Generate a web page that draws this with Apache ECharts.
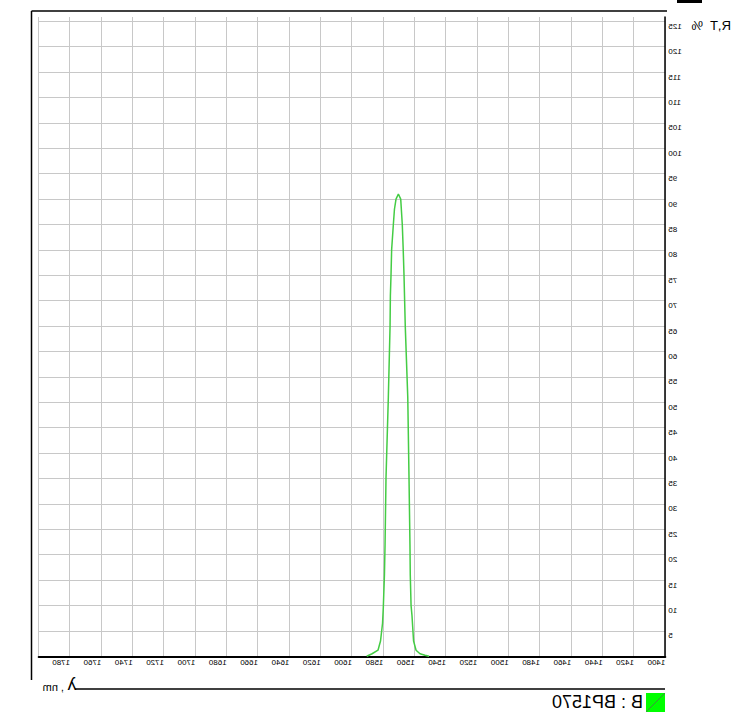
<!DOCTYPE html>
<html>
<head>
<meta charset="utf-8">
<script src="https://cdn.jsdelivr.net/npm/echarts@6/dist/echarts.min.js"></script>
<style>
  html, body { margin: 0; padding: 0; background: #fff; }
  #chart { width: 743px; height: 715px; transform: scaleX(-1); }
</style>
</head>
<body>
<div id="chart"></div>
<script>
// ---- data ----
const seriesName = 'B : BP1570';
const wavelengths = [1550.8, 1553.4, 1556.6, 1559.1, 1560.7, 1561.7, 1562.3, 1562.8, 1563.0, 1563.6, 1564.4, 1566.0, 1566.4, 1566.8, 1567.3, 1567.9, 1568.9, 1570.4, 1571.9, 1572.9, 1573.6, 1574.7, 1575.1, 1575.5, 1575.7, 1576.8, 1578.3, 1578.9, 1579.3, 1580.0, 1580.5, 1581.8, 1583.4, 1587.2, 1590.6];
const transmission = [0, 0.2, 0.5, 1.2, 3, 8, 10, 16, 22, 35, 51, 65, 70, 75, 80, 85, 90, 91, 90, 88, 85, 80, 75, 71, 65, 51, 35, 22, 16, 9.7, 6.5, 3, 1.2, 0.5, 0];
const xTickLabels = [1400, 1420, 1440, 1460, 1480, 1500, 1520, 1540, 1560, 1580, 1600, 1620, 1640, 1660, 1680, 1700, 1720, 1740, 1760, 1780];
const yTickLabels = [5, 10, 15, 20, 25, 30, 35, 40, 45, 50, 55, 60, 65, 70, 75, 80, 85, 90, 95, 100, 105, 110, 115, 120, 125];
const yAxisTitle = 'R,T  %';
const xAxisSymbol = 'λ';
const xAxisUnit = ', nm';

const chart = echarts.init(document.getElementById('chart'), null, { renderer: 'svg' });
const FONT = 'Liberation Sans';
const option = {
  animation: false,
  backgroundColor: '#fff',
  grid: [
    { left: 77.7, right: 38.7, top: 17, bottom: 58.7, outerBoundsMode: 'none', containLabel: false },
    { left: 77.7, right: 38.7, top: 21.3, bottom: 58.7, outerBoundsMode: 'none', containLabel: false }
  ],
  xAxis: [
    {
      gridIndex: 0, type: 'value', min: 1400, max: 1800, interval: 20,
      axisLine: { show: true, onZero: false, lineStyle: { color: '#000', width: 2 } },
      axisTick: { show: false },
      splitLine: { show: true, lineStyle: { color: '#c8c8c8', width: 1 } },
      axisLabel: {
        show: true, align: 'left', margin: 2, fontSize: 8, fontFamily: FONT, color: '#000',
        showMaxLabel: false, showMinLabel: true, hideOverlap: false,
        formatter: v => xTickLabels.includes(v) ? String(v) : ''
      }
    },
    {
      gridIndex: 1, type: 'value', min: 1400, max: 1800, show: false,
      splitLine: { show: false }
    }
  ],
  yAxis: [
    {
      gridIndex: 0, type: 'value', min: 0, max: 125.8, position: 'left',
      axisLine: { show: true, onZero: false, lineStyle: { color: '#000', width: 1.5 } },
      axisTick: { show: false }, axisLabel: { show: false }, splitLine: { show: false }
    },
    {
      gridIndex: 1, type: 'value', min: 0, max: 125, interval: 5, position: 'left',
      axisLine: { show: false }, axisTick: { show: false },
      splitLine: { show: true, lineStyle: { color: '#c8c8c8', width: 1 } },
      axisLabel: {
        show: true, align: 'right', verticalAlign: 'top', margin: 3, fontSize: 8,
        fontFamily: FONT, color: '#000', padding: [1, 0, 0, 0],
        showMinLabel: false, showMaxLabel: true, hideOverlap: false,
        formatter: v => yTickLabels.includes(v) ? String(v) : ''
      }
    }
  ],
  series: [{
    name: seriesName, type: 'line', xAxisIndex: 1, yAxisIndex: 1,
    data: wavelengths.map((w, i) => [w, transmission[i]]),
    showSymbol: false, smooth: false,
    lineStyle: { color: '#44cc44', width: 1.5 },
    itemStyle: { color: '#44cc44' }
  }],
  graphic: [
    { type: 'rect', shape: { x: 41, y: 0, width: 25, height: 3 }, style: { fill: '#000' } },
    { type: 'line', shape: { x1: 76, y1: 11, x2: 711.5, y2: 11 }, style: { stroke: '#000', lineWidth: 1.5 } },
    { type: 'line', shape: { x1: 711.5, y1: 11, x2: 711.5, y2: 680 }, style: { stroke: '#000', lineWidth: 1.5 } },
    { type: 'line', shape: { x1: 78, y1: 689, x2: 668, y2: 689 }, style: { stroke: '#000', lineWidth: 1.5 } },
    { type: 'text', x: 12, y: 25, style: { text: yAxisTitle, font: '13px "Liberation Sans"', fill: '#000', align: 'left', verticalAlign: 'middle' } },
    { type: 'text', x: 666.5, y: 693, style: { text: xAxisSymbol, font: '18px "Liberation Sans"', fill: '#000', align: 'left', verticalAlign: 'bottom' } },
    { type: 'text', x: 679, y: 692, style: { text: xAxisUnit, font: '11px "Liberation Sans"', fill: '#000', align: 'left', verticalAlign: 'bottom' } },
    { type: 'rect', shape: { x: 78, y: 693, width: 19, height: 19 }, style: { fill: '#00ff00' } },
    { type: 'line', shape: { x1: 78, y1: 693, x2: 97, y2: 712 }, style: { stroke: '#3f8f3f', lineWidth: 1 } },
    { type: 'text', x: 100, y: 702, style: { text: seriesName, font: '18px "Liberation Sans"', fill: '#000', align: 'left', verticalAlign: 'middle' } }
  ]
};
chart.setOption(option);
</script>
</body>
</html>
